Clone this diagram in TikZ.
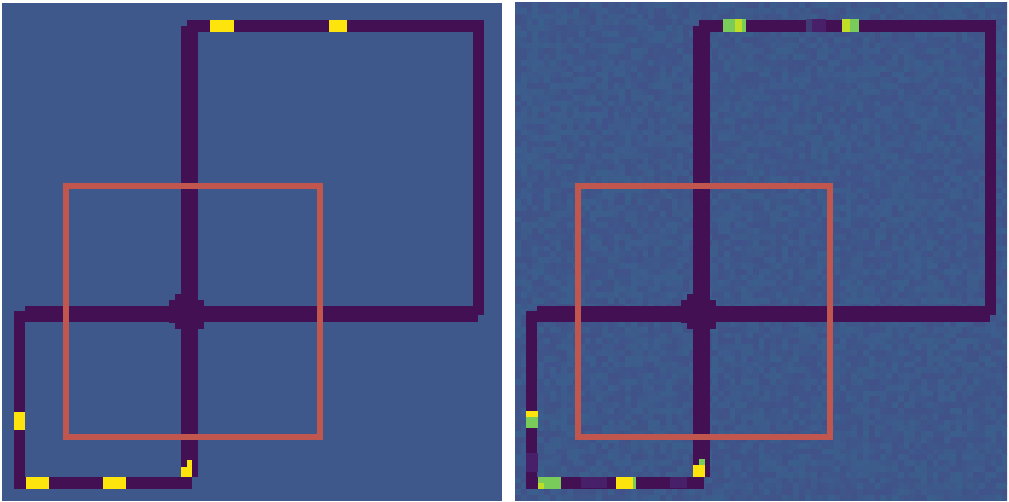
\documentclass[tikz,border=0pt]{standalone}
\usepackage{tikz}
\usetikzlibrary{calc}

\definecolor{mapblue}{RGB}{62,88,139}
\definecolor{mapteal}{RGB}{59,95,141}
\definecolor{mapviolet}{RGB}{65,81,137}
\definecolor{mapdark}{RGB}{68,16,84}
\definecolor{mapdim}{RGB}{72,32,106}
\definecolor{mapyellow}{RGB}{253,228,12}
\definecolor{mapgreen}{RGB}{122,204,90}
\definecolor{maplime}{RGB}{190,222,40}
\definecolor{roired}{RGB}{192,86,78}

% shared wire layout of one panel (pixel coordinates)
\newcommand{\drawwires}{%
  \fill[wire] (187,20) rectangle (484,32);   % top bar
  \fill[wire] (181,26) rectangle (198,477);  % centre vertical
  \fill[wire] (473,20) rectangle (484,315);  % right vertical
  \fill[wire] (478,306) rectangle (484,315);
  \fill[wire] (25,306) rectangle (478,322);  % middle bar
  \fill[wire] (14,311) rectangle (25,489);   % left vertical
  \fill[wire] (14,477) rectangle (192,489);  % bottom bar
  % junction blob
  \fill[wire] (175,294) rectangle (198,300);
  \fill[wire] (169,300) rectangle (204,323);
  \fill[wire] (175,323) rectangle (204,329);
}

\begin{document}
\begin{tikzpicture}[
  x=1pt,y=-1pt,
  panel/.style={fill=mapblue},
  wire/.style={fill=mapdark},
  hot/.style={fill=mapyellow},
  warm/.style={fill=mapgreen},
  lime/.style={fill=maplime},
  dim/.style={fill=mapdim},
  roi/.style={draw=roired,line width=6pt}
]
\useasboundingbox (0,0) rectangle (1009,502);

% ---------------- left panel ----------------
\fill[panel] (2,3) rectangle (502,501);
\drawwires
\fill[hot] (14,412) rectangle (25,430);
\fill[hot] (26,477) rectangle (49,489);
\fill[hot] (103,477) rectangle (126,489);
\fill[hot] (181,467) rectangle (192,477);
\fill[hot] (187,460) rectangle (192,467);
\fill[hot] (210,20) rectangle (234,32);
\fill[hot] (329,20) rectangle (347,32);
\draw[roi] (66,186) rectangle (320,437);

% ---------------- right panel (noisy) ----------------
\begin{scope}
  \clip (515,2) rectangle (1007,501);
  \pgfmathsetseed{11}
  \foreach \i in {0,...,84} {
    \foreach \j in {0,...,85} {
      \pgfmathrandominteger{\r}{0}{100}
      \fill[mapteal!\r!mapviolet] ({515+\i*5.8},{2+\j*5.8}) rectangle ++(5.9,5.9);
    }
  }
\end{scope}
\begin{scope}[shift={(512,0)}]
  \drawwires
\end{scope}
% faint segments along the wires
\fill[dim] (526,453) rectangle (538,472);
\fill[dim] (581,477) rectangle (607,488);
\fill[dim] (670,477) rectangle (687,488);
\fill[dim] (812,19) rectangle (826,32);
\fill[mapblue!60!mapdark] (806,19) rectangle (812,32);
% bright cells
\fill[hot] (526,411) rectangle (538,417);
\fill[warm] (526,417) rectangle (538,428);
\fill[warm] (538,477) rectangle (561,489);
\fill[lime] (538,483) rectangle (544,489);
\fill[hot] (616,477) rectangle (633,489);
\fill[warm] (633,477) rectangle (636,489);
\fill[hot] (693,465) rectangle (705,477);
\fill[warm] (699,459) rectangle (705,465);
\fill[warm] (723,19) rectangle (735,32);
\fill[lime] (735,19) rectangle (742,32);
\fill[warm] (742,19) rectangle (746,32);
\fill[lime] (842,19) rectangle (850,32);
\fill[warm] (850,19) rectangle (859,32);
\draw[roi] (578,186) rectangle (830,437);

\end{tikzpicture}
\end{document}
